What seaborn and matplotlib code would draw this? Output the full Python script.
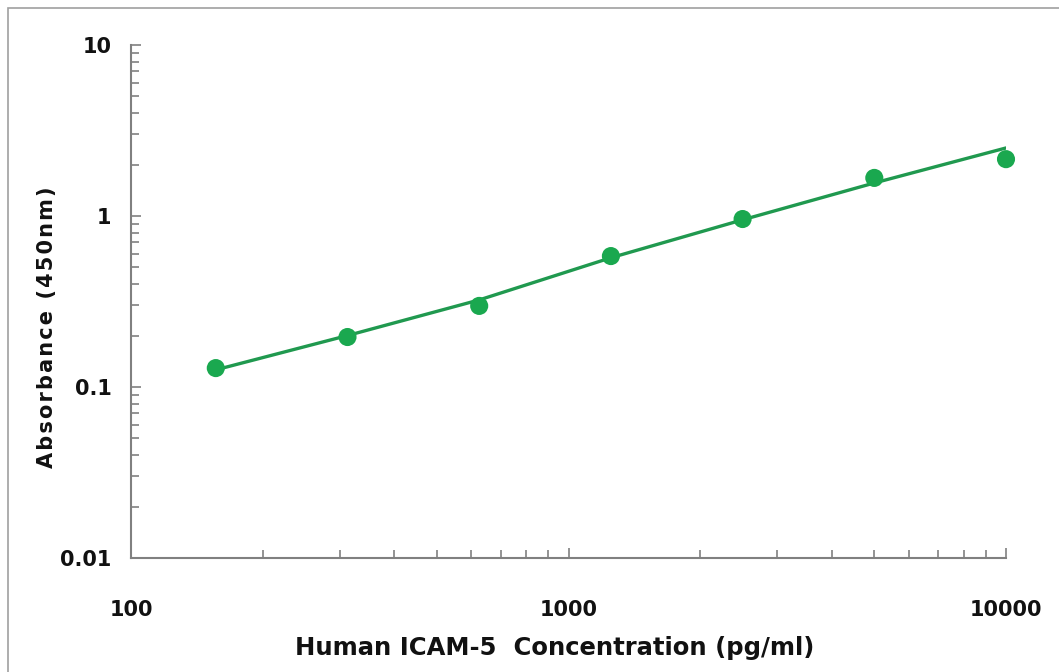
import matplotlib
matplotlib.use("Agg")
import matplotlib.pyplot as plt
import seaborn as sns
import pandas as pd
import numpy as np
from matplotlib.ticker import LogLocator, FixedLocator, FixedFormatter, NullFormatter
from matplotlib.patches import Rectangle

# Data
concentration = [156.25, 312.5, 625, 1250, 2500, 5000, 10000]
absorbance = [0.129, 0.196, 0.298, 0.583, 0.96, 1.67, 2.15]
fit_absorbance = [0.126, 0.200, 0.323, 0.570, 0.950, 1.560, 2.500]
x_ticks = [100, 1000, 10000]
x_tick_labels = ["100", "1000", "10000"]
y_ticks = [0.01, 0.1, 1, 10]
y_tick_labels = ["0.01", "0.1", "1", "10"]

sns.set_theme(style="white")
plt.rcParams['font.family'] = ['DejaVu Sans']

fig = plt.figure(figsize=(10.59, 6.72), dpi=100)
ax = fig.add_axes([131/1059, 1-558/672, (1006-131)/1059, (558-45)/672])

pts = pd.DataFrame({"x": concentration, "y": absorbance})
fit = pd.DataFrame({"x": concentration, "y": fit_absorbance})

sns.lineplot(data=fit, x="x", y="y", ax=ax, color="#20994f", linewidth=2.4, zorder=2)
sns.scatterplot(data=pts, x="x", y="y", ax=ax, color="#1aa84f", s=170, edgecolor="none",
                zorder=3, clip_on=False)

ax.set_xscale("log")
ax.set_yscale("log")
ax.set_xlim(100, 10000)
ax.set_ylim(0.01, 10)

ax.xaxis.set_major_locator(FixedLocator(x_ticks))
ax.xaxis.set_major_formatter(FixedFormatter(x_tick_labels))
ax.yaxis.set_major_locator(FixedLocator(y_ticks))
ax.yaxis.set_major_formatter(FixedFormatter(y_tick_labels))
ax.xaxis.set_minor_locator(LogLocator(base=10, subs=np.arange(2, 10)))
ax.yaxis.set_minor_locator(LogLocator(base=10, subs=np.arange(2, 10)))
ax.xaxis.set_minor_formatter(NullFormatter())
ax.yaxis.set_minor_formatter(NullFormatter())

for s in ["top", "right"]:
    ax.spines[s].set_visible(False)
for s in ["left", "bottom"]:
    ax.spines[s].set_color("#808080")
    ax.spines[s].set_linewidth(1.5)

ax.tick_params(axis="both", which="both", direction="in", color="#808080", width=1.2,
               bottom=True, left=True, top=False, right=False)
ax.tick_params(axis="both", which="major", length=7)
ax.tick_params(axis="both", which="minor", length=6)
ax.tick_params(axis="x", which="major", pad=30, labelsize=15, labelcolor="#111111")
ax.tick_params(axis="y", which="major", pad=14, labelsize=15, labelcolor="#111111")
for lab in ax.get_xticklabels() + ax.get_yticklabels():
    lab.set_fontweight("bold")

ax.set_xlabel("Human ICAM-5  Concentration (pg/ml)", fontsize=17.5, fontweight="bold",
              color="#111111")
ax.xaxis.set_label_coords((555 - 131) / 875, -(636 - 558) / 513)
ylab = "\u200a".join("Absorbance (450nm)")
ax.set_ylabel(ylab, fontsize=15, fontweight="bold", color="#111111")
ax.yaxis.set_label_coords((57 - 131) / 875, 1 - (327 - 45) / 513)

fig.patches.append(Rectangle((8/1059, -0.1), 1.2, 1 - 8/672 + 0.1, transform=fig.transFigure,
                             fill=False, edgecolor="#a0a0a0", linewidth=1.2))

fig.savefig("out.png", dpi=100)
